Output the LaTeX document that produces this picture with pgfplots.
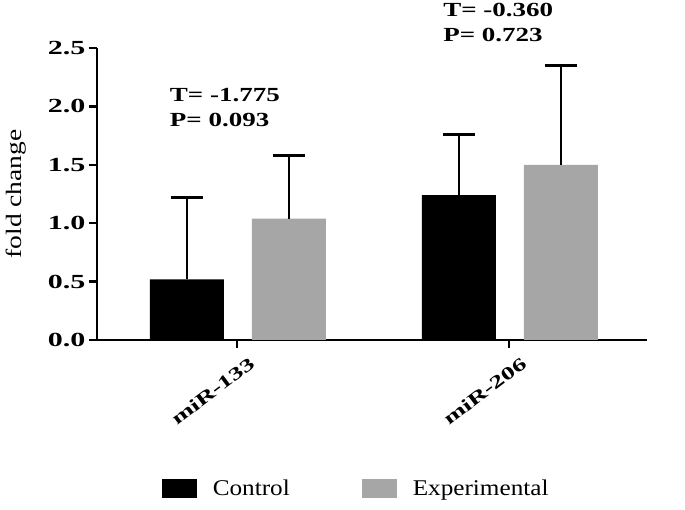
\documentclass[border=0pt]{standalone}
\usepackage{fontspec}
\setmainfont{Liberation Serif}[FakeStretch=1.12]
\newfontfamily\tickfont{Liberation Serif}[FakeStretch=1.5]
\newfontfamily\annfont{Liberation Serif}[FakeStretch=1.35]
\newfontfamily\labfont{Liberation Serif}[FakeStretch=1.25]
\usepackage{pgfplots}
\pgfplotsset{compat=1.18}
\definecolor{expgray}{RGB}{166,166,166}
\begin{document}
\begin{tikzpicture}
\begin{axis}[
    at={(0pt,0pt)}, anchor=south west,
    scale only axis,
    width=550pt, height=292pt,
    xmin=-0.515, xmax=1.507,
    ymin=0, ymax=2.5,
    axis x line*=bottom,
    axis y line*=left,
    axis line style={line width=2.4pt, -},
    tick align=outside,
    major tick length=8pt,
    tick style={line width=2.4pt, black},
    xtick={0,1},
    xticklabels={miR-133,miR-206},
    x tick label style={rotate=37, anchor=north east, font=\tickfont\bfseries\fontsize{18}{18}\selectfont, xshift=8pt, yshift=-10pt},
    ytick={0,0.5,1,1.5,2,2.5},
    y tick label style={font=\tickfont\bfseries\fontsize{20}{20}\selectfont,
        /pgf/number format/.cd, fixed, fixed zerofill, precision=1, assume math mode=true},
    ylabel={fold change},
    ylabel style={at={(axis description cs:-0.122,0.5)}, anchor=south,
        font=\labfont\fontsize{22}{22}\selectfont},
    clip=false,
    legend columns=2,
    legend style={draw=none, at={(0.112,-0.51)}, anchor=west,
        font=\fontsize{22.5}{23}\selectfont,
        /tikz/every odd column/.append style={column sep=14pt},
        /tikz/every even column/.append style={column sep=70pt}},
]
\addplot[ybar, bar width=0.272, bar shift=-0.185, fill=black, draw=none,
    legend image code/.code={\fill[black] (0pt,-9pt) rectangle (35pt,10pt);}]
    coordinates {(0,0.52) (1,1.24)};
\addlegendentry{Control}
\addplot[ybar, bar width=0.272, bar shift=0.19, fill=expgray, draw=none,
    legend image code/.code={\fill[expgray] (0pt,-9pt) rectangle (35pt,10pt);}]
    coordinates {(0,1.04) (1,1.50)};
\addlegendentry{Experimental}
% error bars (upper only), at bar centres
\addplot[forget plot, draw=none, mark=none,
    error bars/.cd, y dir=plus, y explicit,
    error bar style={draw=black, line width=2.2pt},
    error mark options={draw=black, line width=2.2pt, mark size=16pt, rotate=90}]
    coordinates {(-0.185,0.52) +- (0,0.70) (0.815,1.24) +- (0,0.52)
                 (0.19,1.04) +- (0,0.54) (1.19,1.50) +- (0,0.85)};
\node[anchor=west, align=left, font=\annfont\bfseries\fontsize{20}{25}\selectfont]
    at (axis cs:-0.26,1.99) {T= -1.775\\P= 0.093};
\node[anchor=west, align=left, font=\annfont\bfseries\fontsize{20}{25}\selectfont]
    at (axis cs:0.745,2.72) {T= -0.360\\P= 0.723};
\end{axis}
\pgfresetboundingbox
\path (-97pt,-170pt) rectangle (588pt,340pt);
\end{tikzpicture}
\end{document}
